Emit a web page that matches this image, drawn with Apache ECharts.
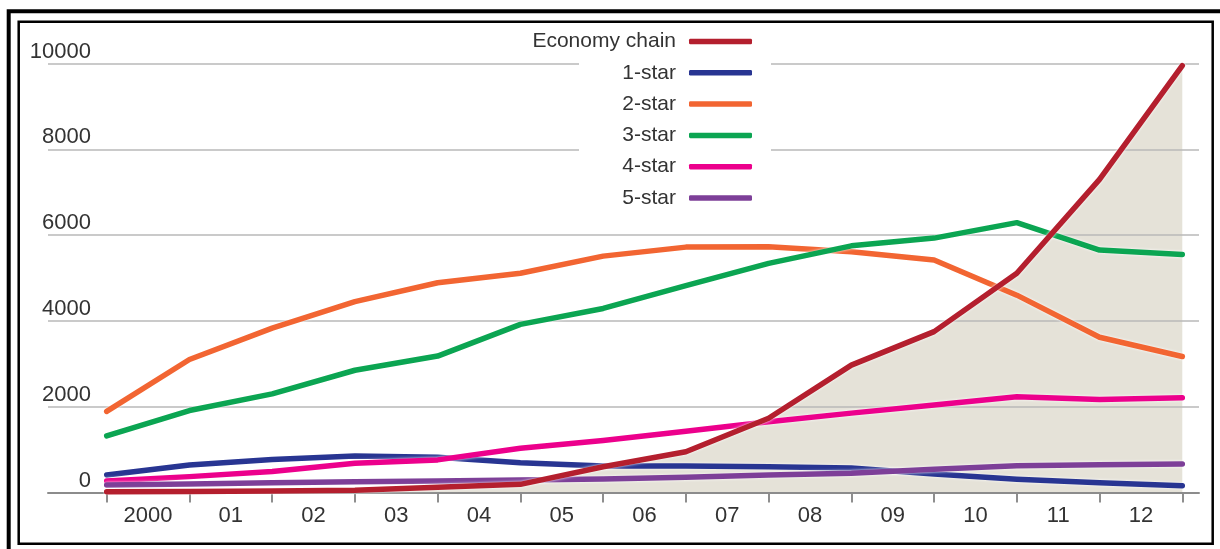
<!DOCTYPE html>
<html><head><meta charset="utf-8">
<script src="https://cdn.jsdelivr.net/npm/echarts@6/dist/echarts.min.js"></script>
<style>html,body{margin:0;padding:0;background:#fff}#c{width:1220px;height:549px}</style>
</head><body><div id="c"></div>
<script>
// Year labels (between ticks) and data point positions (ticks)
const yearLabels = ['2000','01','02','03','04','05','06','07','08','09','10','11','12'];
const pointYears = [2000,2001,2002,2003,2004,2005,2006,2007,2008,2009,2010,2011,2012,2013];
const yTicks = [0, 2000, 4000, 6000, 8000, 10000];

const economyChain = [20, 25, 35, 55, 120, 190, 600, 950, 1730, 2970, 3750, 5110, 7300, 9950];
const oneStar   = [410, 640, 770, 850, 820, 695, 620, 620, 600, 570, 430, 310, 230, 160];
const twoStar   = [1890, 3100, 3830, 4450, 4890, 5110, 5510, 5720, 5730, 5610, 5420, 4600, 3620, 3170];
const threeStar = [1320, 1910, 2300, 2850, 3180, 3920, 4290, 4820, 5340, 5750, 5930, 6290, 5650, 5550];
const fourStar  = [270, 370, 490, 680, 760, 1030, 1210, 1430, 1650, 1850, 2040, 2230, 2170, 2210];
const fiveStar  = [175, 200, 225, 250, 270, 290, 315, 355, 410, 450, 540, 625, 645, 665];

const seriesNames = ['Economy chain', '1-star', '2-star', '3-star', '4-star', '5-star'];
const seriesColors = {
  'Economy chain': '#b41f2e', '1-star': '#283592', '2-star': '#f26532',
  '3-star': '#0ba552', '4-star': '#ec008c', '5-star': '#7d3f98'
};

const FONT = "'Liberation Sans', Arial, sans-serif";
const TEXT = '#333333';
const pairs = arr => arr.map((v, i) => [pointYears[i], v]);

function lineSeries(name, values, z) {
  return {
    name: name, type: 'line', xAxisIndex: 1, yAxisIndex: 1,
    data: pairs(values), showSymbol: false, symbol: 'none', z: z,
    color: seriesColors[name],
    lineStyle: { width: 5.5, color: seriesColors[name], cap: 'round', join: 'round',
                 shadowColor: '#ffffff', shadowBlur: 3 },
    emphasis: { disabled: true }, animation: false
  };
}

const chart = echarts.init(document.getElementById('c'), null, { renderer: 'canvas' });
chart.setOption({
  animation: false,
  backgroundColor: '#ffffff',
  textStyle: { fontFamily: FONT },
  grid: [
    { left: 48, right: 21, top: 63.5, bottom: 56.5 },
    { left: 106.7, right: 37.7, top: 63.5, bottom: 56.5 }
  ],
  xAxis: [
    { gridIndex: 0, type: 'value', min: 0, max: 1, z: 1,
      axisLine: { show: true, lineStyle: { color: '#8c8c8c', width: 2 } },
      axisTick: { show: false }, axisLabel: { show: false }, splitLine: { show: false } },
    { gridIndex: 1, type: 'value', min: pointYears[0], max: pointYears[pointYears.length - 1], interval: 1,
      axisLine: { show: false },
      axisTick: { show: true, length: 10, lineStyle: { color: '#6a6a6a', width: 1.5 } },
      axisLabel: { show: false }, splitLine: { show: false } },
    { gridIndex: 1, type: 'category', data: yearLabels, boundaryGap: true, position: 'bottom',
      axisLine: { show: false }, axisTick: { show: false },
      axisLabel: { fontSize: 22, color: TEXT, margin: 12, fontFamily: FONT } }
  ],
  yAxis: [
    { gridIndex: 0, type: 'value', min: yTicks[0], max: yTicks[yTicks.length - 1], interval: 2000, z: 1,
      axisLine: { show: false }, axisTick: { show: false },
      axisLabel: { inside: true, align: 'right', verticalAlign: 'bottom', margin: 43,
                   fontSize: 22, color: TEXT, fontFamily: FONT, padding: [0, 0, 1, 0],
                   formatter: v => String(v) },
      splitLine: { show: true, lineStyle: { color: '#b9b9b9', width: 1.5 } } },
    { gridIndex: 1, type: 'value', min: yTicks[0], max: yTicks[yTicks.length - 1], show: false,
      splitLine: { show: false } }
  ],
  legend: {
    data: seriesNames, orient: 'vertical', align: 'right',
    right: 463, top: 25.5, itemWidth: 63, itemHeight: 5.5, itemGap: 9.3,
    icon: 'roundRect', selectedMode: false, z: 4,
    textStyle: { fontSize: 21, color: TEXT, fontFamily: FONT, lineHeight: 22, padding: [0, 8, 0, 0] }
  },
  graphic: [
    { type: 'rect', z: 3, silent: true, shape: { x: 579, y: 52, width: 192, height: 110 },
      style: { fill: '#ffffff' } },
    { type: 'rect', z: 10, silent: true, shape: { x: 8.7, y: 11.3, width: 1400, height: 1000 },
      style: { fill: 'none', stroke: '#000', lineWidth: 4 } },
    { type: 'rect', z: 10, silent: true, shape: { x: 18.7, y: 21.8, width: 1194, height: 522 },
      style: { fill: 'none', stroke: '#000', lineWidth: 2.5 } }
  ],
  series: [
    { name: 'Economy chain area', type: 'line', xAxisIndex: 1, yAxisIndex: 1,
      data: pairs(economyChain), showSymbol: false, symbol: 'none', z: 0,
      lineStyle: { width: 0 }, areaStyle: { color: '#e5e2d8', opacity: 1 },
      emphasis: { disabled: true }, silent: true },
    lineSeries('1-star', oneStar, 2),
    lineSeries('2-star', twoStar, 2),
    lineSeries('3-star', threeStar, 2),
    lineSeries('4-star', fourStar, 2),
    lineSeries('5-star', fiveStar, 2),
    lineSeries('Economy chain', economyChain, 2)
  ]
});
</script>
</body></html>
